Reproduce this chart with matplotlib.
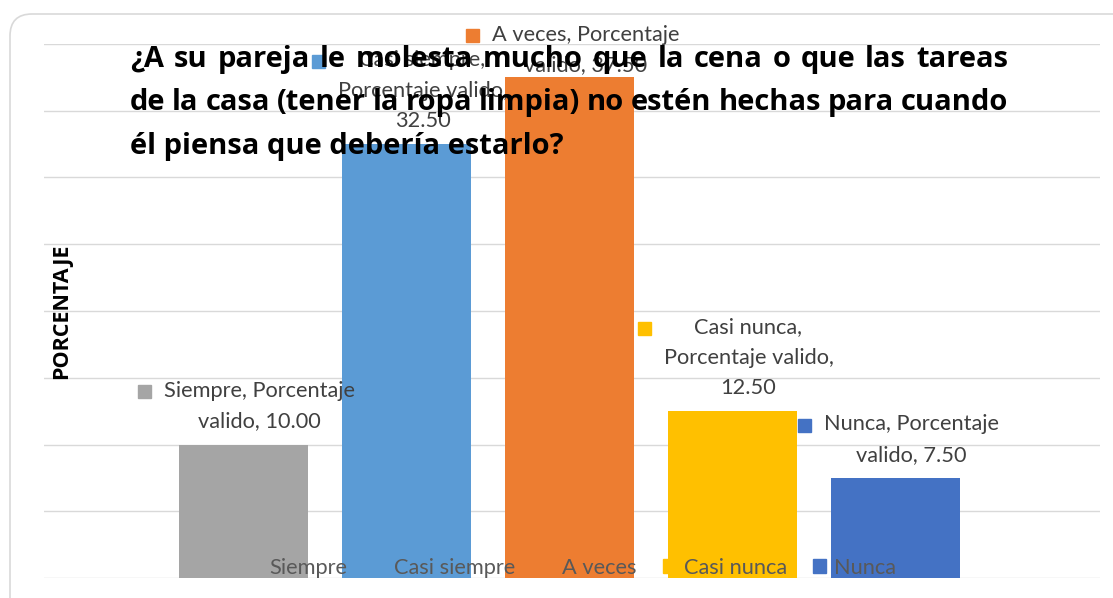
import numpy as np
import matplotlib.pyplot as plt
from matplotlib.patches import Patch, Rectangle, FancyBboxPatch
from matplotlib.transforms import IdentityTransform

categories = ['Siempre', 'Casi siempre', 'A veces', 'Casi nunca', 'Nunca']
values = [10.00, 32.50, 37.50, 12.50, 7.50]
colors = ['#A5A5A5', '#5B9BD5', '#ED7D31', '#FFC000', '#4472C4']
labels = ['Siempre, Porcentaje\nvalido, 10.00',
          'Casi siempre,\nPorcentaje valido,\n32.50',
          'A veces, Porcentaje\nvalido, 37.50',
          'Casi nunca,\nPorcentaje valido,\n12.50',
          'Nunca, Porcentaje\nvalido, 7.50']
title_lines = ['¿A su pareja le molesta mucho que la cena o que las tareas',
               'de la casa (tener la ropa limpia) no estén hechas para cuando',
               'él piensa que debería estarlo?']

W, H = 1113, 598
fig = plt.figure(figsize=(W / 100, H / 100), dpi=100)
ax = fig.add_axes([44 / W, 1 - 578 / H, 1056 / W, 534 / H])

x = np.arange(len(categories))
ax.bar(x, values, width=0.79, color=colors, zorder=2)
ax.set_xlim(-1.224, 5.255)
ax.set_ylim(0, 40)
ax.set_yticks(np.arange(0, 41, 5))
ax.grid(axis='y', color='#D9D9D9', lw=1)
ax.set_axisbelow(True)
ax.tick_params(length=0, labelleft=False, labelbottom=False)
for s in ax.spines.values():
    s.set_visible(False)

ax.text(18 / 1056, 0.5, 'PORCENTAJE', transform=ax.transAxes, rotation=90,
        ha='center', va='center', fontsize=15.5, fontweight='bold',
        family='Open Sans', color='black')

# data labels
anns = []
for i, (v, lab) in enumerate(zip(values, labels)):
    dy = 2 if i == 2 else 13
    a = ax.annotate(lab, xy=(i, v), xytext=(16, dy), textcoords='offset pixels',
                    ha='center', va='bottom', multialignment='center',
                    fontsize=15.7, family='Lato', color='#404040',
                    linespacing=1.65, zorder=4)
    anns.append(a)

handles = [Patch(color=c) for c in colors]
ax.legend(handles, categories, loc='lower center', bbox_to_anchor=(0.5, 0.0),
          ncol=5, frameon=False, handlelength=0.6, handleheight=0.6,
          handletextpad=0.35, columnspacing=1.2, borderpad=0,
          borderaxespad=0.0, prop={'family': 'Lato', 'size': 15.7},
          labelcolor='#595959')

r = fig.canvas.get_renderer()
ident = IdentityTransform()

# label markers
for a, c, lab in zip(anns, colors, labels):
    bb = a.get_window_extent(r)
    n = len(lab.split('\n'))
    lh = bb.height / n
    cy = bb.y1 - lh / 2 + 2
    fig.add_artist(Rectangle((bb.x0 - 26, cy - 6.5), 13, 13,
                             transform=ident, color=c))

# justified title
tkw = dict(fontsize=21, fontweight='bold', family='Open Sans', color='black',
           va='baseline', ha='left', transform=ident, zorder=6)
baselines = [67, 110, 154]
x0, x1 = 130, 1008
for k, (line, yb) in enumerate(zip(title_lines, baselines)):
    if k < 2:
        words = line.split(' ')
        ts = [fig.text(0, 0, w, **tkw) for w in words]
        widths = [t.get_window_extent(r).width for t in ts]
        gap = (x1 - x0 - sum(widths)) / (len(words) - 1)
        xp = x0
        for t, w in zip(ts, widths):
            t.set_position((xp, H - yb))
            xp += w + gap
    else:
        fig.text(x0, H - yb, line, **tkw)

fig.add_artist(FancyBboxPatch((10, -40), 1150, H - 14 + 40,
                              boxstyle='round,pad=0,rounding_size=22',
                              transform=ident, fc='none', ec='#D9D9D9', lw=1.2))

fig.savefig('out.png', dpi=100)
